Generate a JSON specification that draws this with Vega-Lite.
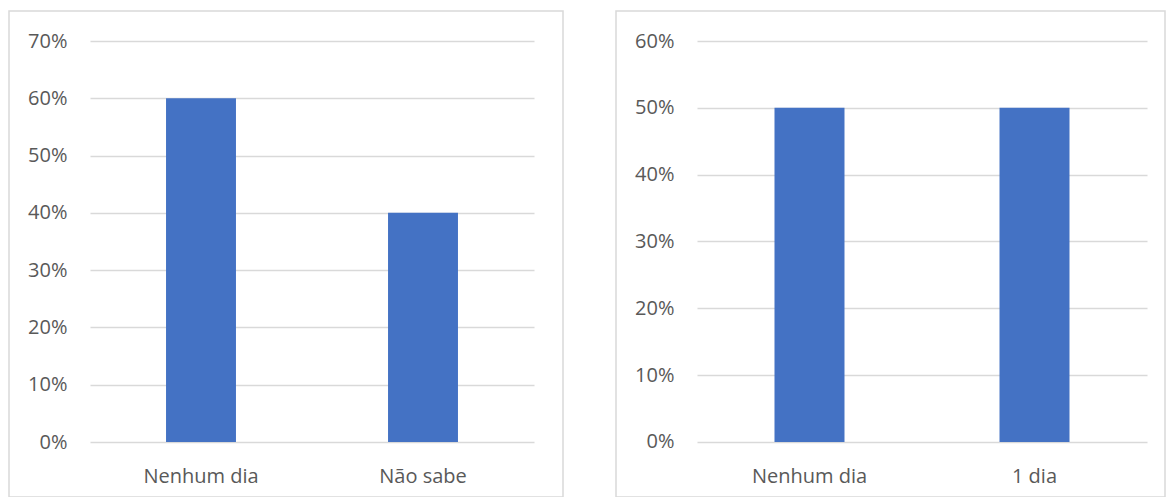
{
  "$schema": "https://vega.github.io/schema/vega-lite/v6.json",
  "padding": {"left": 8, "top": 10, "right": 0, "bottom": 0},
  "background": "white",
  "spacing": 51,
  "config": {
    "view": {"stroke": "#d9d9d9", "strokeWidth": 1.5},
    "font": "Open Sans",
    "axis": {
      "labelFont": "Open Sans",
      "labelFontSize": 20,
      "labelColor": "#595959",
      "domain": false,
      "ticks": false,
      "tickSize": 0,
      "labelPadding": 0,
      "title": null
    }
  },
  "hconcat": [
    {
      "width": 554,
      "height": 486,
      "data": {"values": [
        {"categoria": "Nenhum dia", "percentual": 0.6},
        {"categoria": "Não sabe", "percentual": 0.4}
      ]},
      "mark": {"type": "bar", "color": "#4472c4"},
      "encoding": {
        "x": {
          "field": "categoria", "type": "nominal", "sort": null,
          "scale": {"range": [81, 525], "paddingInner": 0.685, "paddingOuter": 0.3425},
          "axis": {"orient": "bottom", "offset": -31, "labelAngle": 0, "grid": false}
        },
        "y": {
          "field": "percentual", "type": "quantitative",
          "scale": {"domain": [-0.09601, 0.75237], "nice": false, "zero": false},
          "axis": {
            "orient": "left", "offset": -58, "values": [0, 0.1, 0.2, 0.3, 0.4, 0.5, 0.6, 0.7],
            "format": ".0%", "grid": true, "gridColor": "#d9d9d9", "gridWidth": 1.5, "labelAlign": "right"
          }
        }
      }
    },
    {
      "width": 549,
      "height": 486,
      "data": {"values": [
        {"categoria": "Nenhum dia", "percentual": 0.5},
        {"categoria": "1 dia", "percentual": 0.5}
      ]},
      "mark": {"type": "bar", "color": "#4472c4"},
      "encoding": {
        "x": {
          "field": "categoria", "type": "nominal", "sort": null,
          "scale": {"range": [81, 531], "paddingInner": 0.6889, "paddingOuter": 0.3444},
          "axis": {"orient": "bottom", "offset": -31, "labelAngle": 0, "grid": false}
        },
        "y": {
          "field": "percentual", "type": "quantitative",
          "scale": {"domain": [-0.0823, 0.64489], "nice": false, "zero": false},
          "axis": {
            "orient": "left", "offset": -58, "values": [0, 0.1, 0.2, 0.3, 0.4, 0.5, 0.6],
            "format": ".0%", "grid": true, "gridColor": "#d9d9d9", "gridWidth": 1.5, "labelAlign": "right"
          }
        }
      }
    }
  ]
}
